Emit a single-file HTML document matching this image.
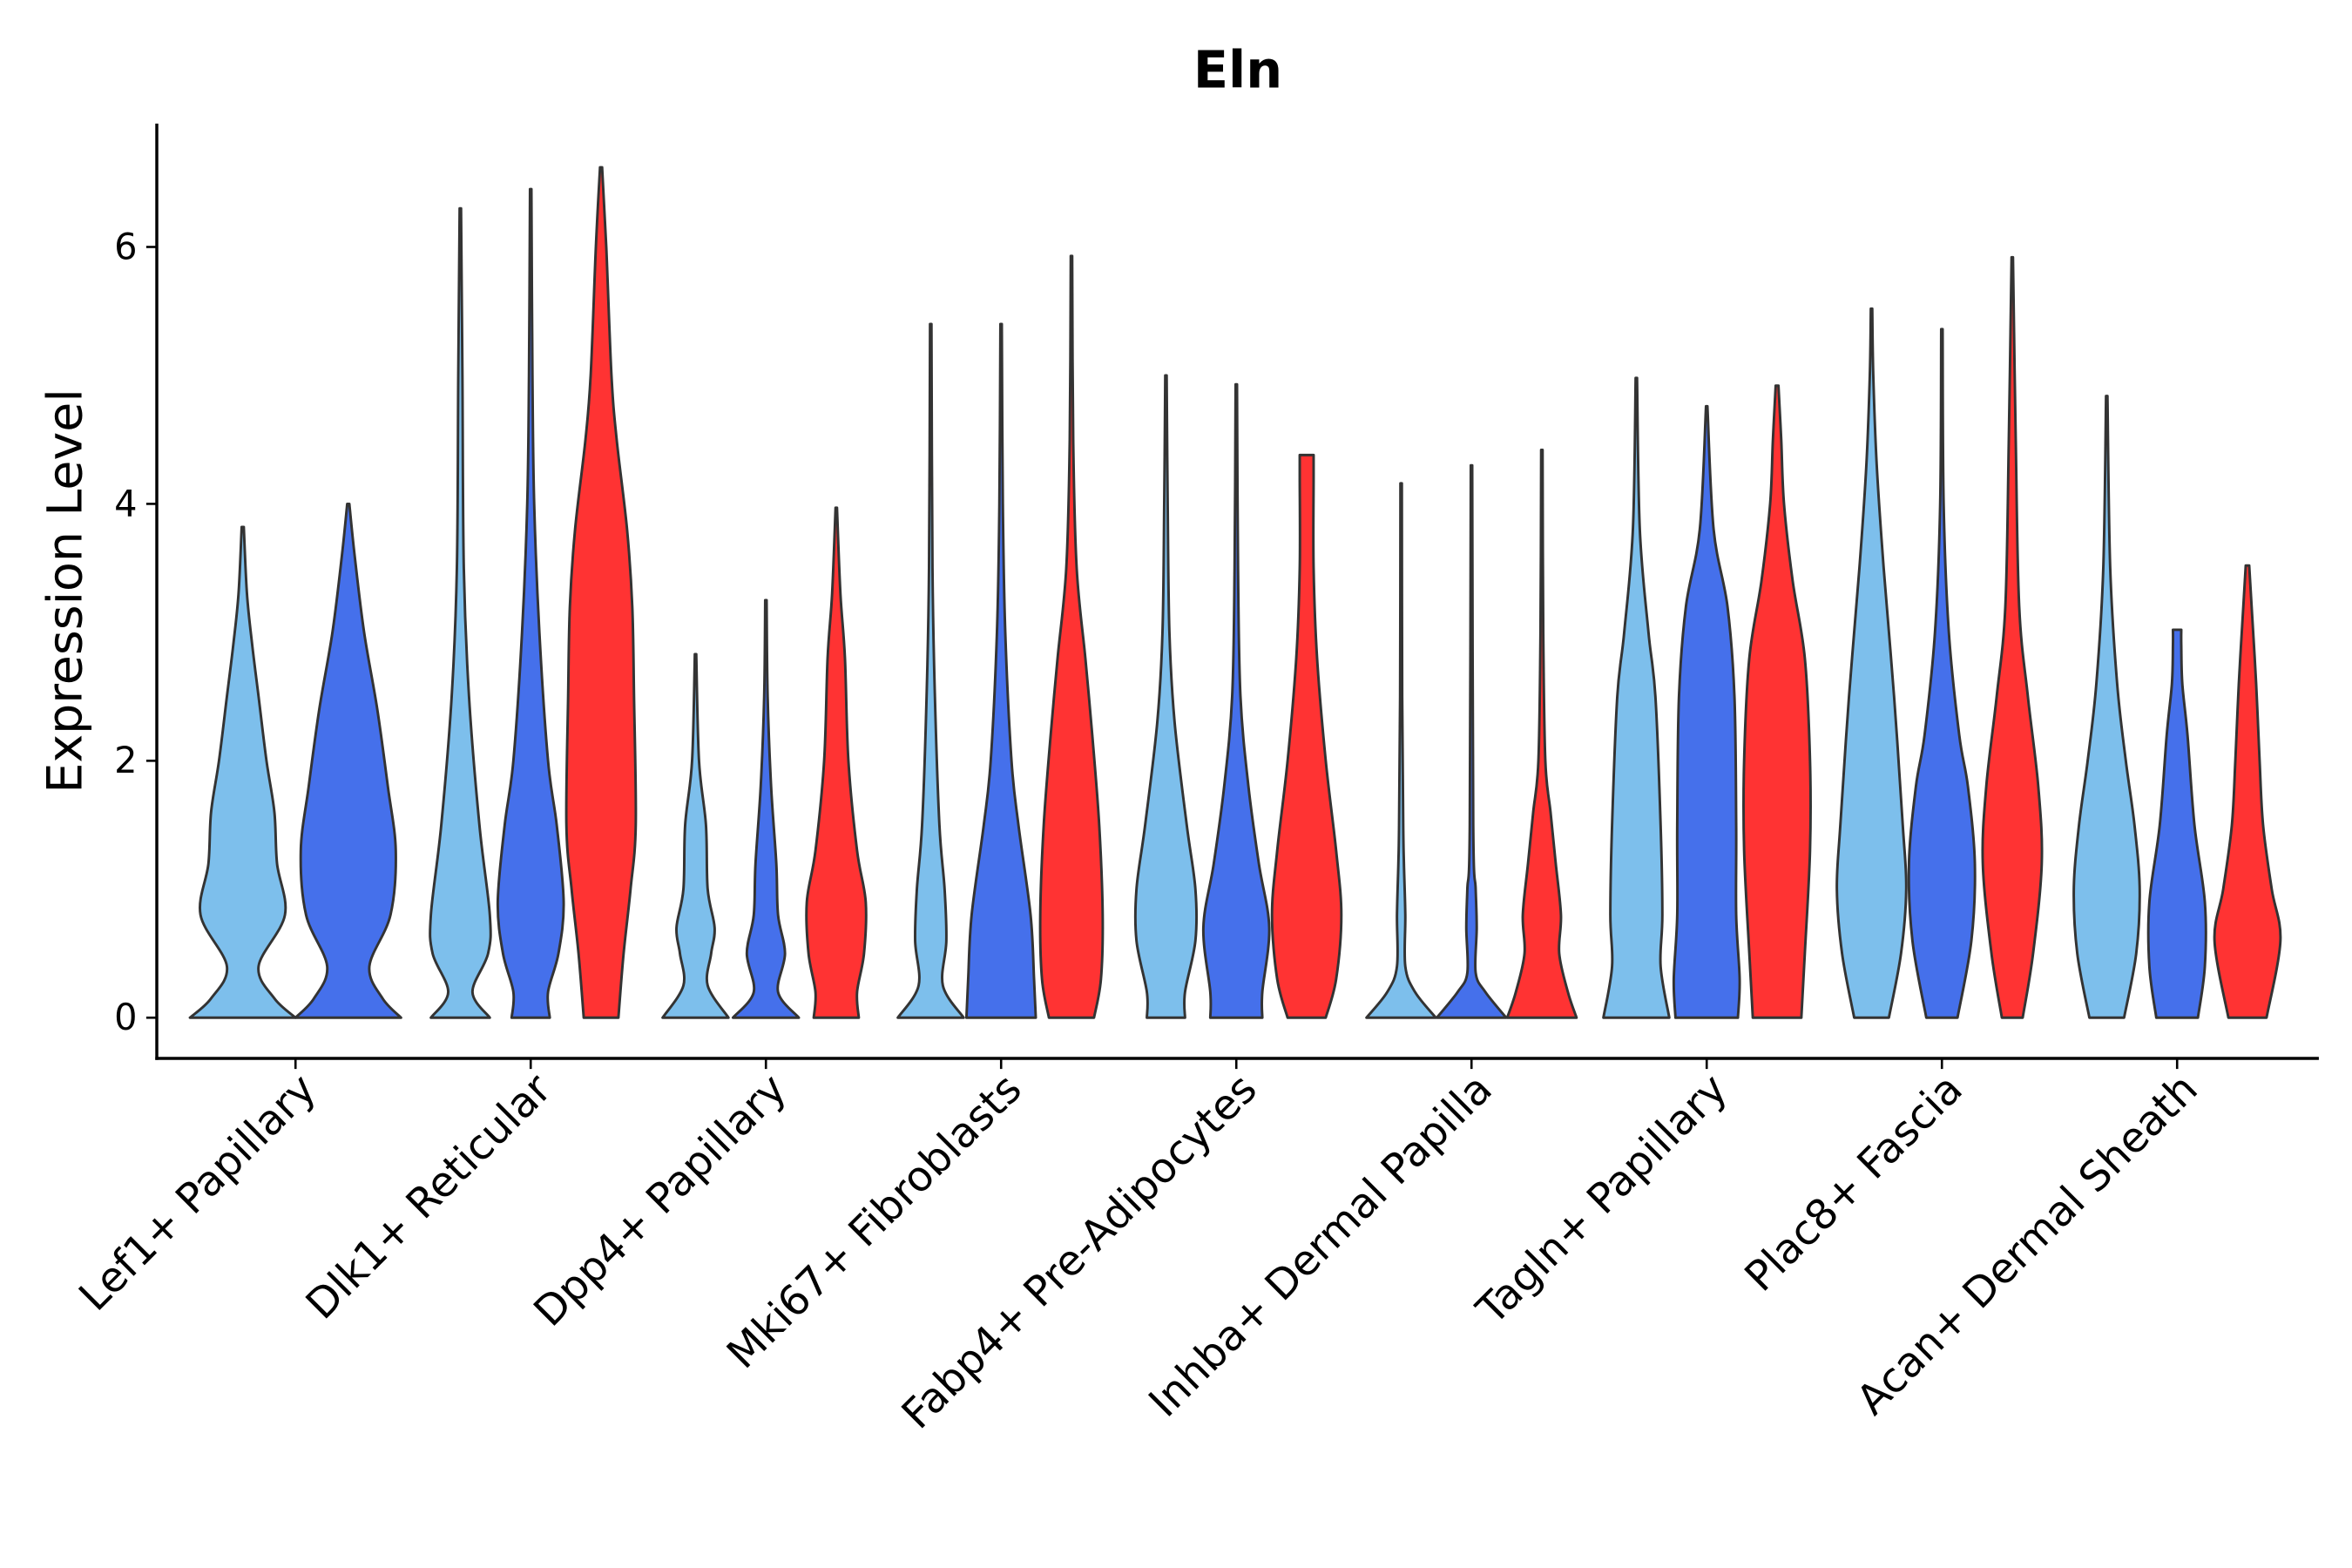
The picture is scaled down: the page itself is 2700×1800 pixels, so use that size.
<!DOCTYPE html>
<html><head><meta charset="utf-8"><style>
html,body{margin:0;padding:0;background:#fff;}
svg{display:block;}
text{font-family:"DejaVu Sans","Liberation Sans",sans-serif;fill:#000;}
</style></head><body>
<svg id="chart" width="2700" height="1800" viewBox="0 0 1560 1040" xmlns="http://www.w3.org/2000/svg">
<text x="821" y="58" font-size="34" font-weight="bold" text-anchor="middle">Eln</text>
<text transform="translate(54,392) rotate(-90)" font-size="32" text-anchor="middle">Expression Level</text>
<g id="marks"></g>
<g id="axes"></g>
</svg>
<script>
const categories = ["Lef1+ Papillary","Dlk1+ Reticular","Dpp4+ Papillary","Mki67+ Fibroblasts","Fabp4+ Pre-Adipocytes","Inhba+ Dermal Papilla","Tagln+ Papillary","Plac8+ Fascia","Acan+ Dermal Sheath"];
const yTicks = [0,2,4,6];
const groupColors = ["#7DBFEC","#4570EB","#FF3333"];
// each violin: [value, relative half-width]
const lef1 = [
 [[0,1],[0.15,0.6],[0.4,0.3],[0.8,0.8],[1.2,0.65],[1.6,0.6],[2.0,0.45],[2.5,0.3],[2.9,0.18],[3.3,0.08],[3.82,0.02]],
 [[0,1],[0.15,0.65],[0.4,0.4],[0.8,0.8],[1.3,0.9],[1.8,0.75],[2.4,0.55],[3.0,0.3],[3.6,0.12],[4.0,0.02]]
];
const dlk1 = [
 [[0,0.85],[0.2,0.35],[0.5,0.8],[0.8,0.85],[1.5,0.55],[2.5,0.25],[3.5,0.1],[5,0.06],[6.3,0.02]],
 [[0,0.55],[0.2,0.5],[0.5,0.8],[0.9,0.95],[1.5,0.75],[2,0.5],[3,0.25],[4,0.1],[5,0.05],[6.45,0.02]],
 [[0,0.5],[0.5,0.65],[1,0.85],[1.5,1.0],[2.5,0.95],[3.2,0.9],[3.8,0.75],[4.5,0.45],[5,0.3],[6,0.15],[6.62,0.03]]
];
const dpp4 = [
 [[0,0.95],[0.25,0.35],[0.5,0.45],[0.7,0.55],[1.0,0.35],[1.5,0.3],[2,0.1],[2.83,0.02]],
 [[0,0.95],[0.2,0.35],[0.5,0.55],[0.8,0.35],[1.2,0.3],[1.8,0.15],[2.5,0.05],[3.25,0.02]],
 [[0,0.65],[0.2,0.6],[0.5,0.8],[0.9,0.85],[1.3,0.6],[2,0.35],[2.8,0.25],[3.3,0.12],[3.97,0.02]]
];
const mki67 = [
 [[0,0.95],[0.25,0.35],[0.6,0.45],[1,0.4],[1.5,0.25],[2.5,0.12],[3.5,0.05],[5.4,0.02]],
 [[0,1.0],[0.3,0.95],[0.8,0.85],[1.5,0.5],[2,0.3],[3,0.12],[4,0.05],[5.4,0.02]],
 [[0,0.65],[0.3,0.85],[0.8,0.9],[1.5,0.8],[2.2,0.6],[2.8,0.4],[3.5,0.15],[4.5,0.05],[5.93,0.02]]
];
const fabp4 = [
 [[0,0.55],[0.2,0.55],[0.6,0.85],[1.0,0.85],[1.5,0.6],[2.3,0.25],[3.0,0.1],[4,0.05],[5.0,0.02]],
 [[0,0.75],[0.2,0.75],[0.7,0.95],[1.2,0.65],[1.8,0.35],[2.5,0.12],[3.5,0.05],[4.93,0.02]],
 [[0,0.55],[0.3,0.85],[0.8,1.0],[1.3,0.85],[2,0.55],[2.8,0.3],[3.5,0.2],[4.2,0.2],[4.38,0.2]]
];
const inhba = [
 [[0,1.0],[0.2,0.4],[0.4,0.12],[0.8,0.12],[1.2,0.08],[1.5,0.06],[2.5,0.03],[4.16,0.02]],
 [[0,1.0],[0.2,0.4],[0.35,0.12],[0.7,0.15],[1.0,0.12],[1.5,0.05],[4.3,0.02]],
 [[0,1.0],[0.2,0.75],[0.5,0.5],[0.8,0.55],[1.2,0.4],[1.6,0.25],[2,0.1],[3,0.04],[4.42,0.02]]
];
const tagln = [
 [[0,0.95],[0.4,0.7],[0.8,0.75],[1.5,0.7],[2.5,0.55],[3.0,0.35],[3.8,0.1],[4.98,0.02]],
 [[0,0.9],[0.3,0.95],[0.8,0.85],[1.5,0.85],[2.5,0.8],[3.2,0.6],[3.8,0.2],[4.76,0.02]],
 [[0,0.7],[0.5,0.8],[1.3,0.95],[2.0,0.95],[2.8,0.8],[3.4,0.45],[4.0,0.2],[4.5,0.12],[4.92,0.04]]
];
const plac8 = [
 [[0,0.5],[0.5,0.85],[1.0,1.0],[1.5,0.9],[2.5,0.65],[3.5,0.35],[4.3,0.15],[5.0,0.05],[5.52,0.02]],
 [[0,0.45],[0.6,0.85],[1.2,0.95],[1.8,0.75],[2.2,0.5],[3,0.2],[4,0.05],[5.36,0.02]],
 [[0,0.3],[0.5,0.6],[1.2,0.85],[1.8,0.75],[2.5,0.45],[3.2,0.2],[4.5,0.1],[5.92,0.02]]
];
const acan = [
 [[0,0.5],[0.5,0.85],[1.0,0.95],[1.5,0.8],[2,0.55],[2.6,0.3],[3.5,0.1],[4.84,0.02]],
 [[0,0.6],[0.4,0.8],[0.9,0.8],[1.5,0.5],[2.2,0.3],[2.6,0.15],[2.9,0.12],[3.02,0.12]],
 [[0,0.55],[0.6,0.95],[1.0,0.7],[1.5,0.45],[2.0,0.35],[2.6,0.25],[3.2,0.12],[3.52,0.05]]
];
const violins = [lef1,dlk1,dpp4,mki67,fabp4,inhba,tagln,plac8,acan];

const NS="http://www.w3.org/2000/svg";
const plot={left:104,right:1538,top:82,bottom:702};
const catStep=156, firstCat=196;
function xScale(i){return firstCat+i*catStep;}
function yScale(v){return 675-v*85.2;}
const marks=document.getElementById('marks');
const axes=document.getElementById('axes');

function smooth(pts){
  let s="";
  for(let i=0;i<pts.length-1;i++){
    const p0=pts[Math.max(0,i-1)],p1=pts[i],p2=pts[i+1],p3=pts[Math.min(pts.length-1,i+2)];
    const c1=[p1[0]+(p2[0]-p0[0])/6,p1[1]+(p2[1]-p0[1])/6];
    const c2=[p2[0]-(p3[0]-p1[0])/6,p2[1]-(p3[1]-p1[1])/6];
    s+=" C"+c1[0].toFixed(2)+","+c1[1].toFixed(2)+" "+c2[0].toFixed(2)+","+c2[1].toFixed(2)+" "+p2[0].toFixed(2)+","+p2[1].toFixed(2);
  }
  return s;
}

violins.forEach((groups,ci)=>{
  const n=groups.length;
  const dodge=140/n;
  const unit=n===2?35:23;
  groups.forEach((prof,gi)=>{
    const cx=xScale(ci)+(gi-(n-1)/2)*dodge;
    const right=prof.map(p=>[cx+p[1]*unit,yScale(p[0])]);
    const left=prof.slice().reverse().map(p=>[cx-p[1]*unit,yScale(p[0])]);
    const d="M"+right[0][0].toFixed(2)+","+right[0][1].toFixed(2)+smooth(right)+
      " L"+left[0][0].toFixed(2)+","+left[0][1].toFixed(2)+smooth(left)+" Z";
    const path=document.createElementNS(NS,'path');
    path.setAttribute('d',d);
    path.setAttribute('fill',groupColors[gi]);
    path.setAttribute('stroke','#333');
    path.setAttribute('stroke-width','1.7');
    path.setAttribute('stroke-linejoin','round');
    
    
    marks.appendChild(path);
  });
});

function line(x1,y1,x2,y2,w,name){
  const l=document.createElementNS(NS,'line');
  l.setAttribute('x1',x1);l.setAttribute('y1',y1);l.setAttribute('x2',x2);l.setAttribute('y2',y2);
  l.setAttribute('stroke','#000');l.setAttribute('stroke-width',w);
  
  
  axes.appendChild(l);
}
line(plot.left,plot.top,plot.left,plot.bottom+1,2,'y-axis-line');
line(plot.left-1,plot.bottom,plot.right,plot.bottom,2,'x-axis-line');
yTicks.forEach(t=>{
  const y=yScale(t);
  line(plot.left-7,y,plot.left,y,1.5,'y-tick');
  const tx=document.createElementNS(NS,'text');
  tx.setAttribute('x',plot.left-13);tx.setAttribute('y',y+8);
  tx.setAttribute('font-size','24');tx.setAttribute('text-anchor','end');
  tx.textContent=t;
  
  
  axes.appendChild(tx);
});
categories.forEach((c,i)=>{
  const x=xScale(i);
  line(x,plot.bottom,x,plot.bottom+7,1.5,'x-tick');
  const tx=document.createElementNS(NS,'text');
  tx.setAttribute('transform','translate('+(x+15)+','+(plot.bottom+22)+') rotate(-45)');
  tx.setAttribute('font-size','27.5');tx.setAttribute('text-anchor','end');
  tx.textContent=c;
  
  
  axes.appendChild(tx);
});
</script>
</body></html>
